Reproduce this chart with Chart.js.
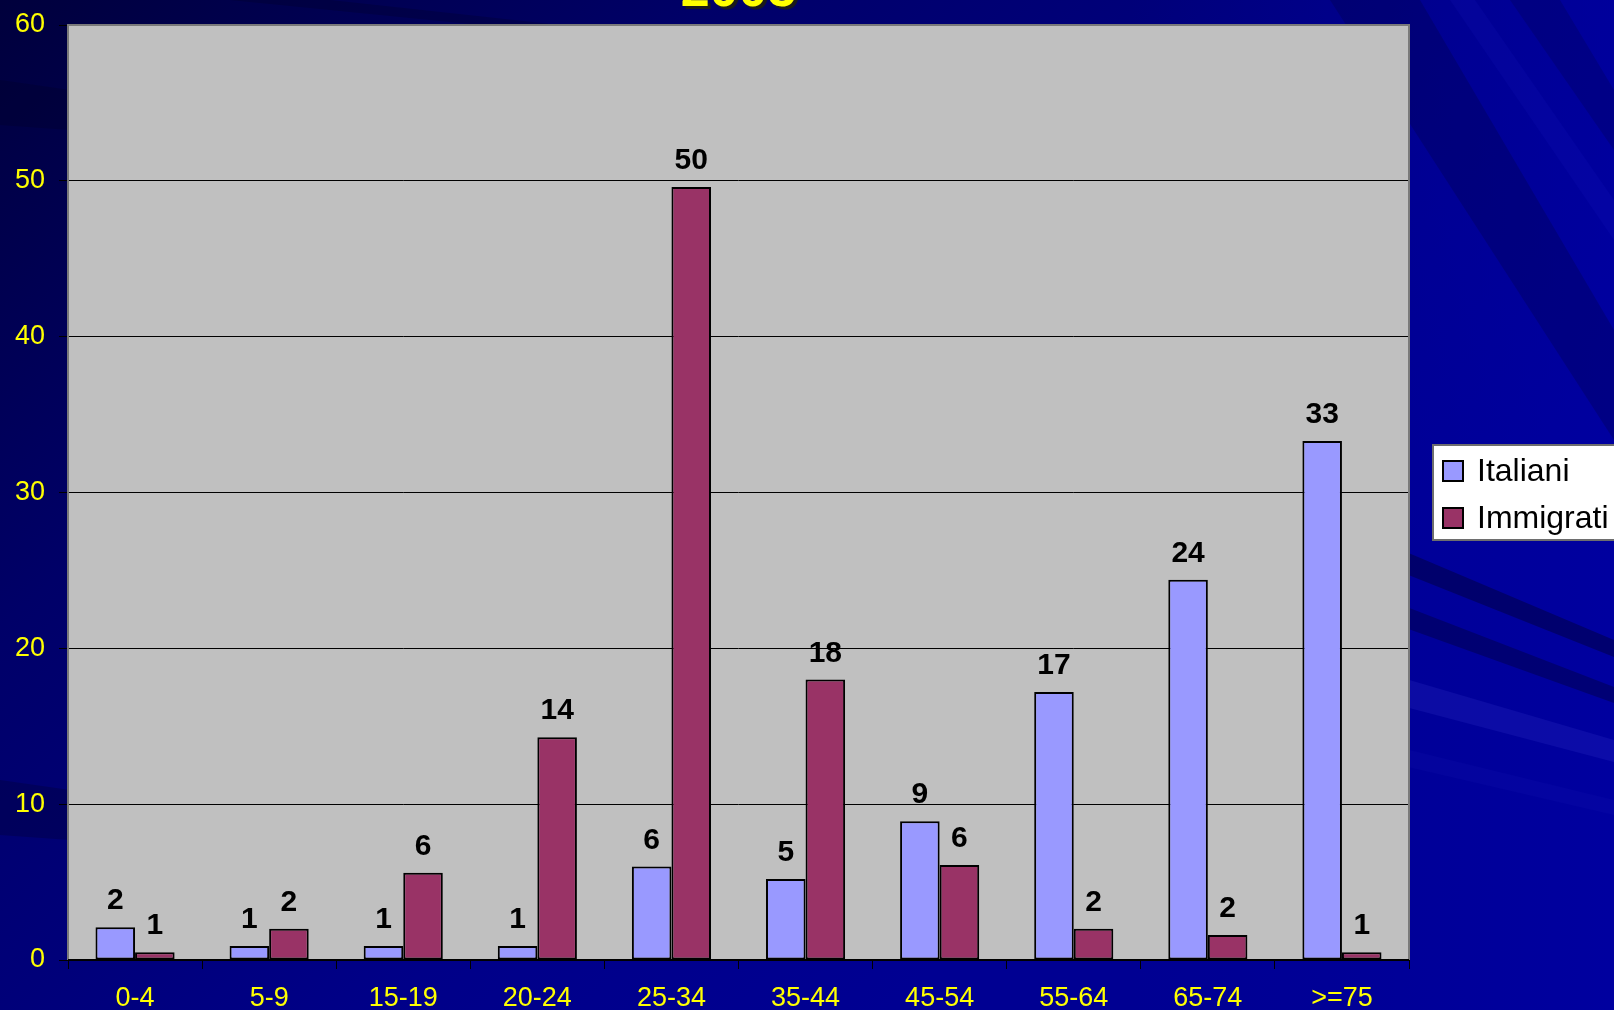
<!DOCTYPE html>
<html>
<head>
<meta charset="utf-8">
<script src="https://cdn.jsdelivr.net/npm/chart.js@4.4.1/dist/chart.umd.min.js"></script>
<style>
  html, body { margin: 0; padding: 0; background: #000070; overflow: hidden; }
  canvas { display: block; }
</style>
</head>
<body>
<canvas id="chart" width="1614" height="1010"></canvas>
<script>
// Age groups and share (%) of each group, per population
const title = '2005';
const categories = ['0-4', '5-9', '15-19', '20-24', '25-34', '35-44', '45-54', '55-64', '65-74', '>=75'];
const italiani  = [2.1, 0.9, 0.9, 0.9, 6.0, 5.2, 8.9, 17.2, 24.4, 33.3];
const immigrati = [0.5, 2.0, 5.6, 14.3, 49.6, 18.0, 6.1, 2.0, 1.6, 0.5];
const seriesNames = ['Italiani', 'Immigrati'];
const yMin = 0, yMax = 60, yStep = 10;

const FONT = '"Liberation Sans", Arial, Helvetica, sans-serif';

// Slide backdrop: deep navy with a few diagonal light/dark rays
const backdrop = {
  id: 'backdrop',
  beforeDraw(chart) {
    const { ctx, width: w, height: h, chartArea: a } = chart;
    ctx.save();
    const g = ctx.createLinearGradient(0, 0, w * 0.55, h);
    g.addColorStop(0, '#00003c');
    g.addColorStop(0.35, '#000068');
    g.addColorStop(0.75, '#000088');
    g.addColorStop(1, '#000092');
    ctx.fillStyle = g;
    ctx.fillRect(0, 0, w, h);

    const g2 = ctx.createLinearGradient(w * 0.7, 0, w, 0);
    g2.addColorStop(0, 'rgba(0,0,160,0)');
    g2.addColorStop(1, 'rgba(0,0,170,0.55)');
    ctx.fillStyle = g2;
    ctx.fillRect(0, 0, w, h);

    const ray = (pts, color) => {
      ctx.beginPath();
      ctx.moveTo(pts[0][0], pts[0][1]);
      for (let i = 1; i < pts.length; i++) ctx.lineTo(pts[i][0], pts[i][1]);
      ctx.closePath();
      ctx.fillStyle = color;
      ctx.fill();
    };
    // shallow rays on the lower right
    ray([[1000, 380], [1614, 640], [1614, 657], [1000, 412]], 'rgba(0,0,40,0.40)');
    ray([[1000, 450], [1614, 687], [1614, 703], [1000, 482]], 'rgba(0,0,40,0.35)');
    ray([[1000, 560], [1614, 740], [1614, 762], [1000, 600]], 'rgba(60,60,210,0.20)');
    ray([[1000, 650], [1614, 800], [1614, 815], [1000, 672]], 'rgba(40,40,200,0.10)');
    // steep rays on the upper right
    ray([[1330, 0], [1420, 0], [1614, 330], [1614, 440]], 'rgba(0,0,50,0.25)');
    ray([[1450, 0], [1475, 0], [1614, 200], [1614, 240]], 'rgba(40,40,220,0.10)');
    ray([[1510, 0], [1560, 0], [1614, 90], [1614, 150]], 'rgba(0,0,50,0.20)');
    // dark streak along the top band
    ray([[230, 0], [330, 0], [560, 25], [480, 25]], 'rgba(0,0,30,0.25)');
    // soft bands on the left margin
    ray([[0, 80], [70, 90], [70, 130], [0, 125]], 'rgba(0,0,30,0.25)');
    ray([[0, 780], [70, 790], [70, 840], [0, 835]], 'rgba(0,0,30,0.25)');

    // plot area
    ctx.fillStyle = '#C0C0C0';
    ctx.fillRect(a.left, a.top, a.right - a.left, a.bottom - a.top);
    ctx.restore();
  }
};

// Grey frame around the plot area (drawn over the gridlines, under the bars)
const frame = {
  id: 'frame',
  beforeDatasetsDraw(chart) {
    const { ctx, chartArea: a } = chart;
    ctx.save();
    ctx.strokeStyle = '#7a7a7a';
    ctx.lineWidth = 2;
    ctx.beginPath();
    ctx.moveTo(a.left, a.bottom);
    ctx.lineTo(a.left, a.top);
    ctx.lineTo(a.right, a.top);
    ctx.lineTo(a.right, a.bottom);
    ctx.stroke();
    ctx.strokeStyle = '#000';
    ctx.beginPath();
    ctx.moveTo(a.left, a.bottom);
    ctx.lineTo(a.right, a.bottom);
    ctx.stroke();
    ctx.restore();
  }
};

// Rounded value above each bar
const valueLabels = {
  id: 'valueLabels',
  afterDatasetsDraw(chart) {
    const { ctx } = chart;
    ctx.save();
    ctx.font = 'bold 30px ' + FONT;
    ctx.fillStyle = '#000';
    ctx.textAlign = 'center';
    ctx.textBaseline = 'alphabetic';
    chart.data.datasets.forEach((ds, i) => {
      chart.getDatasetMeta(i).data.forEach((bar, j) => {
        ctx.fillText(String(Math.round(ds.data[j])), bar.x, bar.y - 18);
      });
    });
    ctx.restore();
  }
};

// Boxed legend to the right of the plot, and the slide heading
const sideLegend = {
  id: 'sideLegend',
  afterDraw(chart) {
    const { ctx, chartArea: a } = chart;
    const x0 = a.right + 24;
    const rowGap = 47;
    const boxH = 95;
    const y0 = Math.round((a.top + a.bottom) / 2 - boxH / 2);
    ctx.save();
    ctx.fillStyle = '#ffffff';
    ctx.fillRect(x0, y0, 260, boxH);
    ctx.strokeStyle = '#6e6e6e';
    ctx.lineWidth = 2;
    ctx.strokeRect(x0, y0, 260, boxH);
    ctx.font = '32px ' + FONT;
    ctx.textAlign = 'left';
    ctx.textBaseline = 'middle';
    chart.data.datasets.forEach((ds, i) => {
      const cy = y0 + 26 + i * rowGap;
      ctx.fillStyle = ds.backgroundColor;
      ctx.fillRect(x0 + 10, cy - 10, 20, 20);
      ctx.strokeStyle = '#000';
      ctx.lineWidth = 2;
      ctx.strokeRect(x0 + 10, cy - 10, 20, 20);
      ctx.fillStyle = '#000';
      ctx.fillText(ds.label, x0 + 44, cy + 1);
    });

    // heading
    ctx.font = 'bold 52px ' + FONT;
    ctx.textAlign = 'center';
    ctx.textBaseline = 'alphabetic';
    const tx = (a.left + a.right) / 2;
    ctx.fillStyle = '#1a1a1a';
    ctx.fillText(title, tx + 3, 9);
    ctx.fillStyle = '#FFFF00';
    ctx.fillText(title, tx, 6);
    ctx.restore();
  }
};

new Chart(document.getElementById('chart'), {
  type: 'bar',
  data: {
    labels: categories,
    datasets: [
      {
        label: seriesNames[0],
        data: italiani,
        backgroundColor: '#9999FF',
        borderColor: '#000000',
        borderWidth: 2,
        borderSkipped: false,
        categoryPercentage: 0.59,
        barPercentage: 1.0
      },
      {
        label: seriesNames[1],
        data: immigrati,
        backgroundColor: '#993366',
        borderColor: '#000000',
        borderWidth: 2,
        borderSkipped: false,
        categoryPercentage: 0.59,
        barPercentage: 1.0
      }
    ]
  },
  options: {
    responsive: false,
    animation: false,
    devicePixelRatio: 1,
    layout: { padding: { top: 25, right: 205, left: 0, bottom: 0 } },
    plugins: {
      legend: { display: false },
      title: { display: false },
      tooltip: { enabled: false }
    },
    scales: {
      x: {
        ticks: {
          color: '#FFFF00',
          font: { family: FONT, size: 27 },
          padding: 13,
          maxRotation: 0,
          autoSkip: false
        },
        grid: {
          offset: true,
          drawOnChartArea: false,
          tickLength: 9,
          color: '#000',
          tickColor: '#000',
          lineWidth: 1
        },
        border: { display: false },
        afterFit(scale) {
          scale.height = 50;
          scale.paddingLeft = 0;
          scale.paddingRight = 0;
        }
      },
      y: {
        min: yMin,
        max: yMax,
        ticks: {
          stepSize: yStep,
          color: '#FFFF00',
          font: { family: FONT, size: 27 },
          padding: 14
        },
        grid: {
          color: '#000',
          tickColor: '#000',
          lineWidth: 1,
          tickLength: 9
        },
        border: { display: false },
        afterFit(scale) {
          scale.width = 68;
          scale.paddingTop = 0;
          scale.paddingBottom = 0;
        }
      }
    }
  },
  plugins: [backdrop, frame, valueLabels, sideLegend]
});
</script>
</body>
</html>
